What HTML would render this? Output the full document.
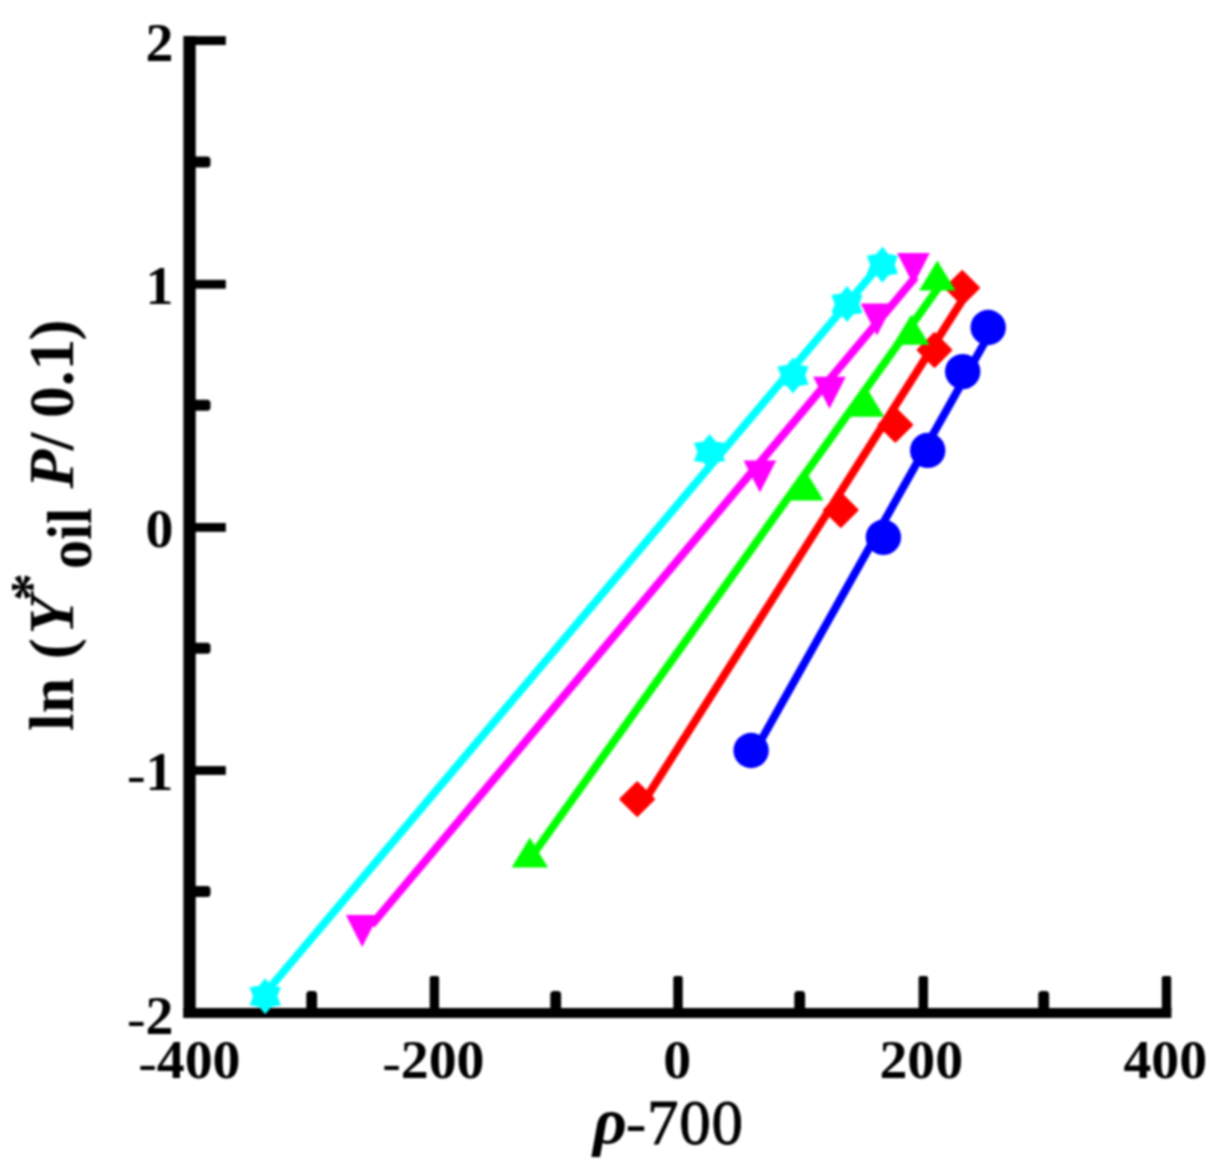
<!DOCTYPE html>
<html lang="en">
<head>
<meta charset="utf-8">
<title>ln(Y*oil P/0.1) vs rho-700</title>
<style>
html,body{margin:0;padding:0;background:#fff;}
body{width:1214px;height:1174px;overflow:hidden;}
svg{display:block;filter:blur(0.9px);}
</style>
</head>
<body>
<svg width="1214" height="1174" viewBox="0 0 1214 1174">
<rect width="1214" height="1174" fill="#fff"/>
<g fill="#000">
<rect x="183.4" y="36" width="12.3" height="982"/>
<rect x="183.4" y="1008.0" width="988.0" height="10"/>
<rect x="190" y="36.2" width="35.8" height="8.8"/>
<rect x="190" y="279.9" width="35.8" height="8.8"/>
<rect x="190" y="523.0" width="35.8" height="8.8"/>
<rect x="190" y="766.1" width="35.8" height="8.8"/>
<rect x="190" y="156.6" width="20.5" height="11" rx="3.5"/>
<rect x="190" y="399.7" width="20.5" height="11" rx="3.5"/>
<rect x="190" y="642.8" width="20.5" height="11" rx="3.5"/>
<rect x="190" y="885.9" width="20.5" height="11" rx="3.5"/>
<rect x="429.7" y="976" width="9.4" height="37" rx="2"/>
<rect x="673.3" y="976" width="9.4" height="37" rx="2"/>
<rect x="918.6" y="976" width="9.4" height="37" rx="2"/>
<rect x="1161.8" y="976" width="9.4" height="37" rx="2"/>
<rect x="306.3" y="991" width="10.8" height="22" rx="3.5"/>
<rect x="550.3" y="991" width="10.8" height="22" rx="3.5"/>
<rect x="794.3" y="991" width="10.8" height="22" rx="3.5"/>
<rect x="1038.3" y="991" width="10.8" height="22" rx="3.5"/>
</g>
<g>
<line x1="755.3" y1="750.5" x2="993" y2="327.5" stroke="#0000ff" stroke-width="8" stroke-linecap="butt"/>
<circle cx="751.1" cy="750.5" r="17.7" fill="#0000ff"/>
<circle cx="883.4" cy="537.3" r="17.7" fill="#0000ff"/>
<circle cx="927.7" cy="450.4" r="17.7" fill="#0000ff"/>
<circle cx="962.7" cy="371.6" r="17.7" fill="#0000ff"/>
<circle cx="988.2" cy="327.5" r="17.7" fill="#0000ff"/>
</g>
<g>
<line x1="645.6" y1="799" x2="965.6" y2="295" stroke="#ff0000" stroke-width="8" stroke-linecap="butt"/>
<polygon points="637.2,782.5 653.8,799.1 637.2,815.7 620.6,799.1" fill="#ff0000" stroke="#ff0000" stroke-width="2.4" stroke-linejoin="round"/>
<polygon points="840.8,493.4 857.4,510.0 840.8,526.6 824.2,510.0" fill="#ff0000" stroke="#ff0000" stroke-width="2.4" stroke-linejoin="round"/>
<polygon points="895.3,408.3 911.9,424.9 895.3,441.5 878.7,424.9" fill="#ff0000" stroke="#ff0000" stroke-width="2.4" stroke-linejoin="round"/>
<polygon points="934.5,333.4 951.1,350.0 934.5,366.6 917.9,350.0" fill="#ff0000" stroke="#ff0000" stroke-width="2.4" stroke-linejoin="round"/>
<polygon points="962.2,271.3 978.8,287.9 962.2,304.5 945.6,287.9" fill="#ff0000" stroke="#ff0000" stroke-width="2.4" stroke-linejoin="round"/>
</g>
<g>
<line x1="532.6" y1="855" x2="941" y2="284" stroke="#00ff00" stroke-width="8" stroke-linecap="butt"/>
<polygon points="529.8,837.6 548.0,867.6 511.6,867.6" fill="#00ff00"/>
<polygon points="805.5,470.5 823.7,500.5 787.3,500.5" fill="#00ff00"/>
<polygon points="866.0,386.8 884.2,416.8 847.8,416.8" fill="#00ff00"/>
<polygon points="911.2,314.7 929.4,344.7 893.0,344.7" fill="#00ff00"/>
<polygon points="937.3,260.4 955.5,290.4 919.1,290.4" fill="#00ff00"/>
</g>
<g>
<line x1="371.5" y1="925" x2="915.5" y2="277" stroke="#ff00ff" stroke-width="8" stroke-linecap="butt"/>
<polygon points="362.2,947.1 378.5,915.1 345.9,915.1" fill="#ff00ff"/>
<polygon points="759.9,492.6 776.2,460.6 743.6,460.6" fill="#ff00ff"/>
<polygon points="829.5,408.8 845.8,376.8 813.2,376.8" fill="#ff00ff"/>
<polygon points="877.0,335.5 893.3,303.5 860.7,303.5" fill="#ff00ff"/>
<polygon points="913.5,285.0 929.8,253.0 897.2,253.0" fill="#ff00ff"/>
</g>
<g>
<line x1="262.9" y1="996" x2="880.2" y2="264.5" stroke="#00ffff" stroke-width="8" stroke-linecap="butt"/>
<polygon points="265.2,978.3 271.3,985.7 280.8,987.3 277.4,996.3 280.8,1005.3 271.3,1006.9 265.2,1014.3 259.1,1006.9 249.6,1005.3 253.0,996.3 249.6,987.3 259.1,985.7" fill="#00ffff"/>
<polygon points="709.6,434.0 715.7,441.4 725.2,443.0 721.8,452.0 725.2,461.0 715.7,462.6 709.6,470.0 703.5,462.6 694.0,461.0 697.4,452.0 694.0,443.0 703.5,441.4" fill="#00ffff"/>
<polygon points="793.0,357.5 799.1,364.9 808.6,366.5 805.2,375.5 808.6,384.5 799.1,386.1 793.0,393.5 786.9,386.1 777.4,384.5 780.8,375.5 777.4,366.5 786.9,364.9" fill="#00ffff"/>
<polygon points="847.0,286.0 853.1,293.4 862.6,295.0 859.2,304.0 862.6,313.0 853.1,314.6 847.0,322.0 840.9,314.6 831.4,313.0 834.8,304.0 831.4,295.0 840.9,293.4" fill="#00ffff"/>
<polygon points="882.4,246.7 888.5,254.1 898.0,255.7 894.6,264.7 898.0,273.7 888.5,275.3 882.4,282.7 876.3,275.3 866.8,273.7 870.2,264.7 866.8,255.7 876.3,254.1" fill="#00ffff"/>
</g>
<g font-family="'Liberation Serif', serif" font-weight="bold" font-size="55.8" fill="#000">
<text x="173.4" y="61.1" text-anchor="end">2</text>
<text x="173.4" y="304.1" text-anchor="end">1</text>
<text x="173.4" y="547.2" text-anchor="end">0</text>
<text x="173.4" y="790.4" text-anchor="end"><tspan font-weight="normal" dy="3">-</tspan><tspan dy="-3">1</tspan></text>
<text x="173.4" y="1033.5" text-anchor="end"><tspan font-weight="normal" dy="3">-</tspan><tspan dy="-3">2</tspan></text>
<text x="189.3" y="1078" text-anchor="middle"><tspan font-weight="normal" dy="3">-</tspan><tspan dy="-3">400</tspan></text>
<text x="433.3" y="1078" text-anchor="middle"><tspan font-weight="normal" dy="3">-</tspan><tspan dy="-3">200</tspan></text>
<text x="677.3" y="1078" text-anchor="middle">0</text>
<text x="921.3" y="1078" text-anchor="middle">200</text>
<text x="1165.3" y="1078" text-anchor="middle">400</text>
</g>
<g font-family="'Liberation Serif', serif" font-size="63" fill="#000">
<text id="xt1" x="593" y="1142.5" font-size="66" font-weight="bold" font-style="italic">ρ</text>
<text id="xt2" x="625.5" y="1144">-</text>
<text id="xt3" x="647" y="1144" letter-spacing="0.8" stroke="#000" stroke-width="0.9">700</text>
</g>
<g transform="rotate(-90)" font-family="'Liberation Serif', serif" font-weight="bold" font-size="63.5" fill="#000">
<text id="yt1" x="-731" y="73">ln</text>
<text id="yt1b" x="-659.2" y="73">(</text>
<text id="yt2" x="-634.5" y="73" font-style="italic">Y</text>
<text id="yt3" x="-601" y="49.5" font-size="56">*</text>
<text id="yt4" x="-569" y="91.3" textLength="61" lengthAdjust="spacingAndGlyphs">oil</text>
<text id="yt5" x="-488.6" y="73" font-style="italic">P</text>
<text id="yt6" x="-450.3" y="73">/</text>
<text id="yt7" x="-418" y="73">0.1</text>
<text id="yt8" x="-340.5" y="73">)</text>
</g>
</svg>
</body>
</html>
